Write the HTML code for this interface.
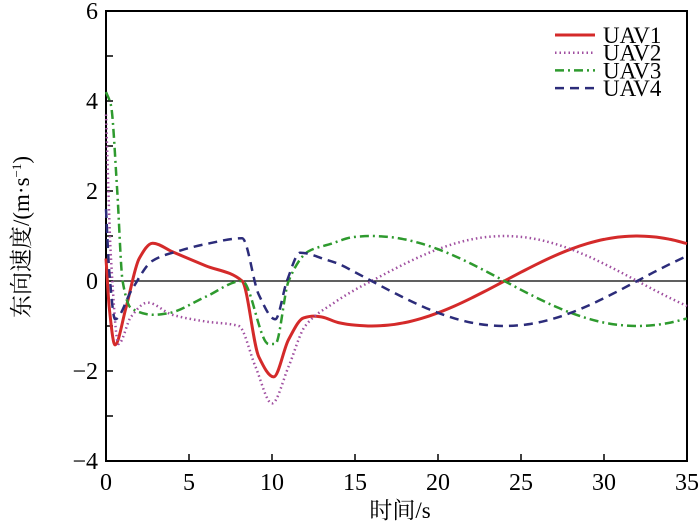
<!DOCTYPE html>
<html><head><meta charset="utf-8">
<style>
body{margin:0;background:#fff;}
svg{display:block;font-family:"Liberation Serif","Noto Serif CJK SC",serif;}
</style></head>
<body>
<svg id="chart" width="700" height="525" viewBox="0 0 700 525">
<g id="axes"></g>
<g id="series"></g>
<g id="legend"></g>
<text x="400" y="518" text-anchor="middle" font-size="23">时间/s</text>
<text transform="translate(29,237) rotate(-90)" text-anchor="middle" font-size="23">东向速度/(m·s<tspan font-size="13" dy="-8">−1</tspan><tspan dy="8">)</tspan></text>
</svg>
<script>
const xTicks=[0,5,10,15,20,25,30,35];
const yTicks=[-4,-2,0,2,4,6];
const seriesNames=["UAV1","UAV2","UAV3","UAV4"];
const t1=[0,0.2,0.54,1.2,2,2.8,4,6,8.2,9.2,10.1,11,11.9,12.5,13,14,15,16,17,18,19,20,21,22,23,24,25,26,27,28,29,30,31,32,33,34,35];
const v1=[0.5,-0.6,-1.42,-0.6,0.5,0.84,0.65,0.34,0,-1.68,-2.13,-1.3,-0.82,-0.78,-0.8,-0.924,-0.981,-1,-0.981,-0.924,-0.831,-0.707,-0.556,-0.383,-0.195,0,0.195,0.383,0.556,0.707,0.831,0.924,0.981,1,0.981,0.924,0.831];
const t2=[0,0.3,0.75,1.5,2.5,4,6,8,9,10,11,12,13.8,15,16,17,18,19,20,21,22,23,24,25,26,27,28,29,30,31,32,33,34,35];
const v2=[3.7,0.5,-1.4,-0.8,-0.48,-0.75,-0.9,-1.0,-1.9,-2.72,-1.9,-1.0,-0.47,-0.195,0,0.195,0.383,0.556,0.707,0.831,0.924,0.981,1,0.981,0.924,0.831,0.707,0.556,0.383,0.195,0,-0.195,-0.383,-0.556];
const t3=[0,0.3,0.67,1.0,1.5,2.9,3.7,6,8.2,9.8,10.2,11,12.2,13.5,15,16,17,18,19,20,21,22,23,24,25,26,27,28,29,30,31,32,33,34,35];
const v3=[4.2,3.9,2.05,0,-0.6,-0.75,-0.72,-0.35,0,-1.4,-1.4,0,0.66,0.82,0.981,1,0.981,0.924,0.831,0.707,0.556,0.383,0.195,0,-0.195,-0.383,-0.556,-0.707,-0.831,-0.924,-0.981,-1,-0.981,-0.924,-0.831];
const t4=[0,0.2,0.55,1.55,2.8,4.5,6,8.2,9.2,10.2,10.9,11.7,13.3,14,15,16,17,18,19,20,21,22,23,24,25,26,27,28,29,30,31,32,33,34,35];
const v4=[1.6,0.2,-0.85,-0.2,0.45,0.68,0.82,0.95,-0.3,-0.85,0,0.63,0.47,0.383,0.195,0,-0.195,-0.383,-0.556,-0.707,-0.831,-0.924,-0.981,-1,-0.981,-0.924,-0.831,-0.707,-0.556,-0.383,-0.195,0,0.195,0.383,0.556];

const L=106,R=687,T=11,B=461,xMin=0,xMax=35,yMin=-4,yMax=6;
function xs(v){return L+(v-xMin)/(xMax-xMin)*(R-L);}
function ys(v){return B-(v-yMin)/(yMax-yMin)*(B-T);}
const NS="http://www.w3.org/2000/svg";
function mk(tag,attrs,parent){const e=document.createElementNS(NS,tag);for(const k in attrs)e.setAttribute(k,attrs[k]);parent.appendChild(e);return e;}
function smoothPath(P){
  const n=P.length,s=[],m=[];
  for(let i=0;i<n-1;i++)s.push((P[i+1][1]-P[i][1])/(P[i+1][0]-P[i][0]));
  for(let i=0;i<n;i++){
    if(i===0)m.push(s[0]);
    else if(i===n-1)m.push(s[n-2]);
    else if(s[i-1]*s[i]<=0)m.push(0);
    else{
      const h0=P[i][0]-P[i-1][0],h1=P[i+1][0]-P[i][0];
      const w1=2*h1+h0,w2=h1+2*h0;
      m.push((w1+w2)/(w1/s[i-1]+w2/s[i]));
    }
  }
  let d='M'+P[0][0].toFixed(1)+','+P[0][1].toFixed(1);
  for(let i=0;i<n-1;i++){
    const p1=P[i],p2=P[i+1],dx=(p2[0]-p1[0])/3;
    d+=' C'+(p1[0]+dx).toFixed(1)+','+(p1[1]+m[i]*dx).toFixed(1)+' '+(p2[0]-dx).toFixed(1)+','+(p2[1]-m[i+1]*dx).toFixed(1)+' '+p2[0].toFixed(1)+','+p2[1].toFixed(1);
  }
  return d;
}
const axes=document.getElementById('axes');
const frame=mk('rect',{x:L,y:T,width:R-L,height:B-T,fill:'none',stroke:'#000','stroke-width':2},axes);


const zl=mk('line',{x1:L,x2:R,y1:ys(0),y2:ys(0),stroke:'#000','stroke-width':1.2},axes);


xTicks.forEach(v=>{
  const tk=mk('line',{x1:xs(v),x2:xs(v),y1:B,y2:B-7,stroke:'#000','stroke-width':1.5},axes);
  
  
  const tx=mk('text',{x:xs(v),y:B+29,'text-anchor':'middle','font-size':24},axes);
  tx.textContent=v;
  
  
});
for(let v=yMin;v<=yMax;v++){
  const tk=mk('line',{x1:L,x2:L+7,y1:ys(v),y2:ys(v),stroke:'#000','stroke-width':1.5},axes);
  
  
}
yTicks.forEach(v=>{
  const tx=mk('text',{x:L-8,y:ys(v)+8,'text-anchor':'end','font-size':24},axes);
  tx.textContent=v<0?'−'+Math.abs(v):v;
  
  
});
const styles=[
 {c:'#d42a2a',w:3,d:''},
 {c:'#a04fa0',w:2.5,d:'1.5 3'},
 {c:'#2e9a2e',w:2.5,d:'9 4 2 4'},
 {c:'#2c2c7a',w:2.5,d:'9 6'}];
const data=[[t1,v1],[t2,v2],[t3,v3],[t4,v4]];
const sg=document.getElementById('series');
data.forEach((s,i)=>{
  const P=s[0].map((t,j)=>[xs(t),ys(s[1][j])]);
  const p=mk('path',{d:smoothPath(P),fill:'none',stroke:styles[i].c,'stroke-width':styles[i].w,'stroke-dasharray':styles[i].d,'stroke-linejoin':'round'},sg);
  
  
});
const lg=document.getElementById('legend');
seriesNames.forEach((n,i)=>{
  const y=35+i*17.7;
  const ln=mk('line',{x1:555,x2:595,y1:y,y2:y,stroke:styles[i].c,'stroke-width':styles[i].w,'stroke-dasharray':styles[i].d},lg);
  
  
  const tx=mk('text',{x:603,y:y+8,'font-size':23},lg);
  tx.textContent=n;
  
  
});
</script>
</body></html>
